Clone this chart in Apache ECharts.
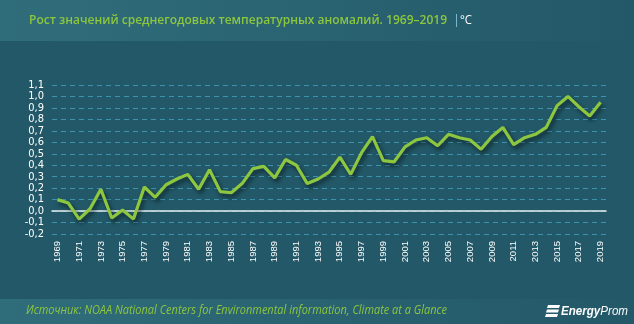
<!DOCTYPE html>
<html>
<head>
<meta charset="utf-8">
<script src="https://cdn.jsdelivr.net/npm/echarts@6/dist/echarts.min.js"></script>
<style>
  html, body { margin: 0; padding: 0; background: #225867; }
  #chart { width: 634px; height: 324px; }
</style>
</head>
<body>
<div id="chart"></div>
<script>
// Годы наблюдений
const years = [];
for (let y = 1969; y <= 2019; y++) years.push(String(y));

// Среднегодовая температурная аномалия, °C
const anomalies = [
  0.10, 0.07, -0.07, 0.02, 0.19, -0.06, 0.01, -0.07, 0.21, 0.12,
  0.23, 0.28, 0.32, 0.19, 0.36, 0.17, 0.16, 0.24, 0.37, 0.39,
  0.29, 0.45, 0.40, 0.24, 0.28, 0.34, 0.47, 0.32, 0.51, 0.65,
  0.44, 0.43, 0.56, 0.62, 0.64, 0.57, 0.67, 0.64, 0.62, 0.54,
  0.65, 0.73, 0.58, 0.64, 0.67, 0.73, 0.92, 1.00, 0.91, 0.83,
  0.95
];

const titleText = 'Рост значений среднегодовых температурных аномалий. 1969–2019';
const unitText = '°С';
const sourceText = 'Источник: NOAA National Centers for Environmental information, Climate at a Glance';

// Узкое начертание: сжимаем обычный шрифт по горизонтали до нужной ширины
const measureCtx = document.createElement('canvas').getContext('2d');
function squeeze(text, font, width) {
  measureCtx.font = font;
  return width / measureCtx.measureText(text).width;
}

const titleFont = '600 13px "Open Sans", sans-serif';
const unitFont = '13px "Open Sans", sans-serif';
const sourceFont = 'italic 12px "Open Sans", sans-serif';
const logoFontA = 'italic bold 13px "Liberation Sans", sans-serif';
const logoFontB = 'italic 13px "Liberation Sans", sans-serif';

measureCtx.font = logoFontA;
const logoWidthA = measureCtx.measureText('Energy').width;
measureCtx.font = logoFontB;
const logoScale = 67 / (logoWidthA + measureCtx.measureText('Prom').width);

const chart = echarts.init(document.getElementById('chart'));

const bandGradient = new echarts.graphic.LinearGradient(0, 0, 1, 0, [
  { offset: 0, color: '#306d7b' },
  { offset: 1, color: '#235868' }
]);

chart.setOption({
  backgroundColor: '#225867',
  animation: false,
  graphic: [
    { type: 'rect', shape: { x: 0, y: 0, width: 634, height: 41 }, style: { fill: bandGradient }, z: -1 },
    { type: 'rect', shape: { x: 0, y: 299, width: 634, height: 25 }, style: { fill: bandGradient }, z: -1 },
    {
      type: 'text', x: 29, y: 20, scaleX: squeeze(titleText, titleFont, 418),
      style: { text: titleText, fill: '#8cc63f', font: titleFont, verticalAlign: 'middle' }
    },
    {
      type: 'text', x: 453, y: 20,
      style: { text: '|', fill: '#7fc4dc', font: unitFont, verticalAlign: 'middle' }
    },
    {
      type: 'text', x: 460, y: 20, scaleX: squeeze(unitText, unitFont, 12),
      style: { text: unitText, fill: '#ffffff', font: unitFont, verticalAlign: 'middle' }
    },
    {
      type: 'text', x: 26, y: 311, scaleX: squeeze(sourceText, sourceFont, 421),
      style: { text: sourceText, fill: '#8cc63f', font: sourceFont, verticalAlign: 'middle' }
    },
    // Логотип EnergyProm
    { type: 'polygon', shape: { points: [[548, 305], [560, 305], [559, 308], [547, 308]] }, style: { fill: '#ffffff' } },
    { type: 'polygon', shape: { points: [[547, 309.5], [559, 309.5], [558, 312.5], [546, 312.5]] }, style: { fill: '#ffffff' } },
    { type: 'polygon', shape: { points: [[546, 314], [558, 314], [557, 317], [545, 317]] }, style: { fill: '#ffffff' } },
    {
      type: 'text', x: 561, y: 311, scaleX: logoScale,
      style: {
        text: '{a|Energy}{b|Prom}',
        verticalAlign: 'middle',
        rich: {
          a: { fill: '#ffffff', font: logoFontA },
          b: { fill: '#ffffff', font: logoFontB }
        }
      }
    }
  ],
  grid: { left: 52, right: 28, top: 85, bottom: 90, containLabel: false },
  xAxis: {
    type: 'category',
    data: years,
    boundaryGap: true,
    axisLine: { show: true, onZero: true, lineStyle: { color: '#e6eef0', width: 1.5 } },
    axisTick: { show: false },
    axisLabel: {
      rotate: 90,
      interval: 1,
      margin: 7,
      color: '#ffffff',
      fontSize: 9.5,
      fontFamily: 'Liberation Sans'
    },
    splitLine: { show: false }
  },
  yAxis: {
    type: 'value',
    min: -0.2,
    max: 1.1,
    interval: 0.1,
    axisLine: { show: false },
    axisTick: { show: false },
    axisLabel: {
      color: '#ffffff',
      fontSize: 11,
      fontFamily: 'DejaVu Sans Condensed',
      margin: 8,
      formatter: v => (Math.round(v * 10) / 10).toFixed(1).replace('.', ',')
    },
    splitLine: { lineStyle: { color: '#3c93ad', type: [5, 4], width: 1 } }
  },
  series: [{
    type: 'line',
    data: anomalies,
    symbol: 'none',
    lineStyle: {
      color: '#8dc63f',
      width: 3.2,
      shadowColor: 'rgba(0,0,0,0.55)',
      shadowBlur: 4,
      shadowOffsetX: 2,
      shadowOffsetY: 3
    },
    z: 3
  }]
});
</script>
</body>
</html>
